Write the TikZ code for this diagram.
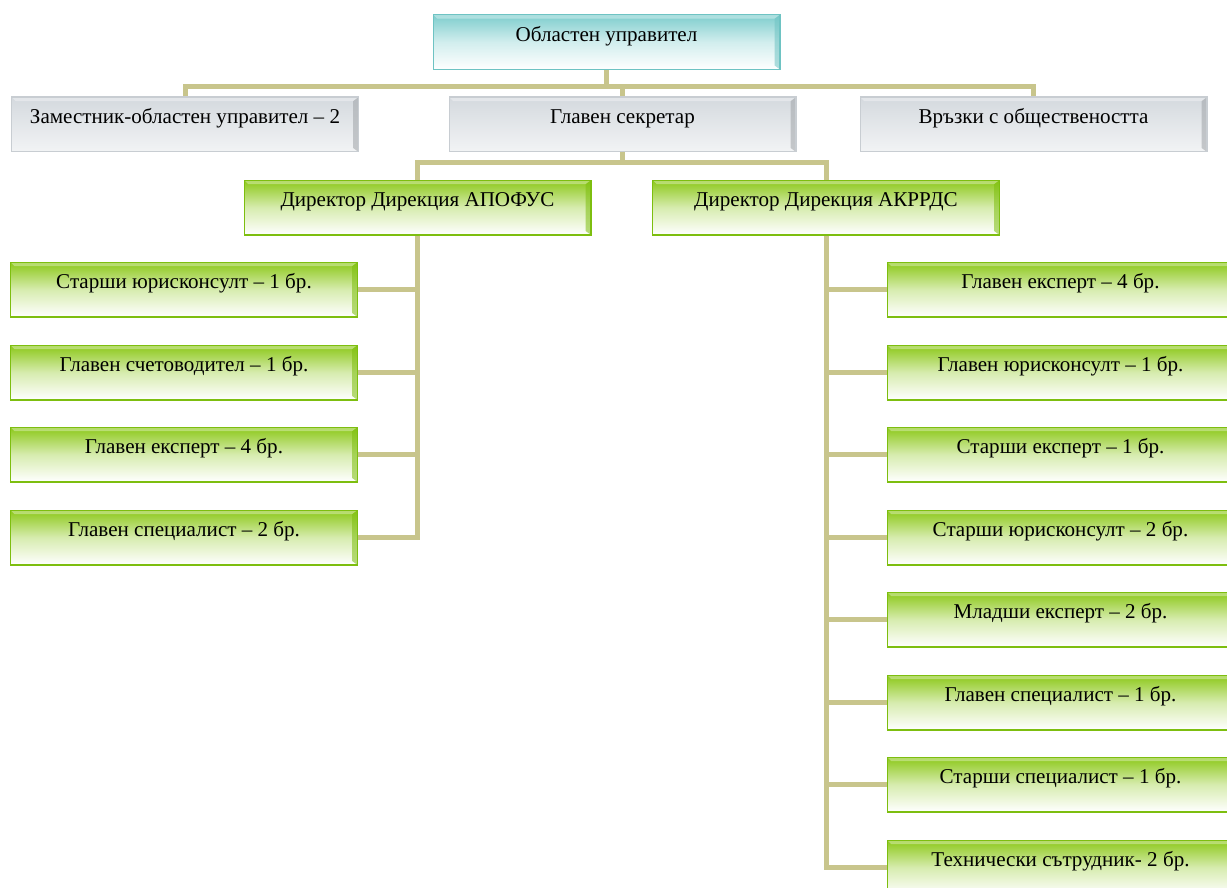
\documentclass[tikz,border=0pt]{standalone}
\usepackage{fontspec}
\setmainfont{Liberation Serif}
\usetikzlibrary{calc}

\definecolor{connclr}{RGB}{200,197,140}
\definecolor{grnclr}{RGB}{140,200,25}
\definecolor{grnline}{RGB}{125,190,15}
\definecolor{tealclr}{RGB}{125,205,205}
\definecolor{tealline}{RGB}{110,195,195}
\definecolor{greyclr}{RGB}{212,217,222}
\definecolor{greyline}{RGB}{200,205,210}

\tikzset{
	bevel/.style={path picture={
		\fill[#1, opacity=0.55] ([xshift=-4pt,yshift=-3pt]path picture bounding box.north east) -- (path picture bounding box.north east) -- (path picture bounding box.south east) -- ([xshift=-4pt,yshift=3pt]path picture bounding box.south east) -- cycle;
		\fill[white, opacity=0.35] (path picture bounding box.north west) -- (path picture bounding box.north east) -- ([xshift=-4pt,yshift=-3pt]path picture bounding box.north east) -- ([xshift=3pt,yshift=-3pt]path picture bounding box.north west) -- cycle;}},
	orgbox/.style={rectangle, line width=1pt, minimum width=260pt, minimum height=41pt, inner sep=0pt, text height=20pt, text depth=21pt, font=\fontsize{15.8}{18}\selectfont},
	grnbox/.style={orgbox, draw=grnline, top color=grnclr, bottom color=white, middle color=grnclr!35!white, bevel=grnline},
	tealbox/.style={orgbox, draw=tealline, top color=tealclr, bottom color=white, middle color=tealclr!35!white, bevel=tealline},
	greybox/.style={orgbox, draw=greyline, top color=greyclr, bottom color=greyclr!30!white, bevel=greyline!80!black},
	conn/.style={draw=connclr, line width=3.75pt}
}
\tikzset{every picture/.style={line width=0.75pt}}

\begin{document}
\begin{tikzpicture}[x=0.75pt,y=0.75pt,yscale=-1,xscale=1]
	\useasboundingbox (0,0) rectangle (1227,888);

	%Bus coordinates
	\coordinate (busA) at (0,87);
	\coordinate (busB) at (622.5,163);

	%Shape: Rectangle [top level]
	\node[tealbox] (gov) at (606.5,42) {Областен управител};
	\node[greybox] (dep) at (185,124.5) {Заместник-областен управител – 2};
	\node[greybox] (sec) at (622.5,124.5) {Главен секретар};
	\node[greybox] (pr) at (1033.5,124.5) {Връзки с обществеността};

	%Shape: Rectangle [directors]
	\node[grnbox] (dirA) at (417.5,207.5) {Директор Дирекция АПОФУС};
	\node[grnbox] (dirB) at (826,207.5) {Директор Дирекция АКРРДС};

	%Shape: Rectangle [АПОФУС]
	\node[grnbox] (a1) at (184,289.5) {Старши юрисконсулт – 1 бр.};
	\node[grnbox] (a2) at (184,372.5) {Главен счетоводител – 1 бр.};
	\node[grnbox] (a3) at (184,454.5) {Главен експерт – 4 бр.};
	\node[grnbox] (a4) at (184,537.5) {Главен специалист – 2 бр.};

	%Shape: Rectangle [АКРРДС]
	\node[grnbox] (b1) at (1060.5,289.5) {Главен експерт – 4 бр.};
	\node[grnbox] (b2) at (1060.5,372.5) {Главен юрисконсулт – 1 бр.};
	\node[grnbox] (b3) at (1060.5,454.5) {Старши експерт – 1 бр.};
	\node[grnbox] (b4) at (1060.5,537.5) {Старши юрисконсулт – 2 бр.};
	\node[grnbox] (b5) at (1060.5,619.5) {Младши експерт – 2 бр.};
	\node[grnbox] (b6) at (1060.5,702.5) {Главен специалист – 1 бр.};
	\node[grnbox] (b7) at (1060.5,784.5) {Старши специалист – 1 бр.};
	\node[grnbox] (b8) at (1060.5,867.5) {Технически сътрудник- 2 бр.};

	%Straight Lines [top level]
	\draw[conn] (gov.south) -- (gov.south |- busA);
	\draw[conn] (dep.north) |- (pr.north |- busA) -- (pr.north);
	\draw[conn] (sec.north |- busA) -- (sec.north);
	%Straight Lines [directors]
	\draw[conn] (sec.south) -- (busB);
	\draw[conn] (dirA.north) |- (busB) -| (dirB.north);
	%Straight Lines [АПОФУС]
	\draw[conn] (dirA.south) |- (a4.east);
	\draw[conn] (a1.east) -- (a1.east -| dirA.south);
	\draw[conn] (a2.east) -- (a2.east -| dirA.south);
	\draw[conn] (a3.east) -- (a3.east -| dirA.south);
	%Straight Lines [АКРРДС]
	\draw[conn] (dirB.south) |- (b8.west);
	\draw[conn] (b1.west) -- (b1.west -| dirB.south);
	\draw[conn] (b2.west) -- (b2.west -| dirB.south);
	\draw[conn] (b3.west) -- (b3.west -| dirB.south);
	\draw[conn] (b4.west) -- (b4.west -| dirB.south);
	\draw[conn] (b5.west) -- (b5.west -| dirB.south);
	\draw[conn] (b6.west) -- (b6.west -| dirB.south);
	\draw[conn] (b7.west) -- (b7.west -| dirB.south);

\end{tikzpicture}
\end{document}
